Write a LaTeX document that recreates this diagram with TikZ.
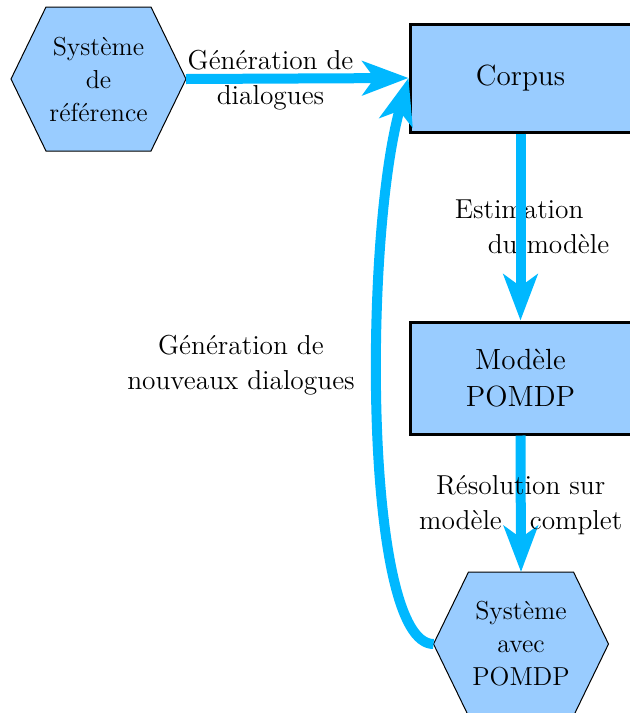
\documentclass[tikz,border=0pt]{standalone}
\usepackage{fontspec}
\usetikzlibrary{arrows.meta,backgrounds}

\definecolor{boxblue}{RGB}{153,204,255}
\definecolor{flowblue}{RGB}{0,184,255}

\tikzset{
  hexnode/.style={rectangle, minimum width=87.5pt, minimum height=72pt,
    inner sep=0pt, outer sep=0pt, align=center, font=\fontsize{13}{16.5}\selectfont},
  hexline/.style={draw=black, line width=0.5pt, fill=boxblue},
  boxnode/.style={rectangle, draw=black, line width=1.5pt, fill=boxblue,
    minimum width=110.5pt, align=center, font=\fontsize{14.6}{18.5}\selectfont},
  flow/.style={draw=flowblue, line width=5pt, -{Stealth[length=23pt,width=17pt,inset=6pt]}},
  lbl/.style={align=center, inner sep=0pt, font=\fontsize{13.7}{17.5}\selectfont}
}

% hexagon drawn behind a named node
\newcommand{\hexframe}[1]{%
  \begin{scope}[on background layer]
    \filldraw[hexline] (#1.west) -- ([xshift=17.5pt]#1.north west) -- ([xshift=-17.5pt]#1.north east)
      -- (#1.east) -- ([xshift=-17.5pt]#1.south east) -- ([xshift=17.5pt]#1.south west) -- cycle;
  \end{scope}}

\begin{document}
\begin{tikzpicture}[x=0.5pt, y=-0.5pt]

\useasboundingbox (0,0) rectangle (629,713);

\node[hexnode] (refsys) at (98.5,79) {Système\\de\\référence};
\node[boxnode, minimum height=54pt] (corpus) at (520.5,78) {Corpus};
\node[boxnode, minimum height=56pt] (modele) at (520.5,378) {Modèle\\POMDP};
\node[hexnode] (pomdpsys) at (521,644) {Système\\avec\\POMDP};
\hexframe{refsys}
\hexframe{pomdpsys}

\draw[flow] (refsys.east) -- node[lbl, pos=0.38, yshift=-1pt] {Génération de\\dialogues} (corpus.west);

% the arrow passes over this label
\node[lbl, align=left] (estim) at (532,227) {Estimation\\\hspace*{16.5pt}du modèle};
\draw[flow] (corpus.south) -- (modele.north);

\draw[flow] (modele.south) -- node[lbl, pos=0.51] {Résolution sur\\modèle\hspace{14pt}complet} (pomdpsys.north);

\draw[flow] (pomdpsys.west) .. controls +(-70,0) and +(-45,160) .. (corpus.west);
\node[lbl] (gennew) at (241,365) {Génération de\\nouveaux dialogues};

\end{tikzpicture}
\end{document}
